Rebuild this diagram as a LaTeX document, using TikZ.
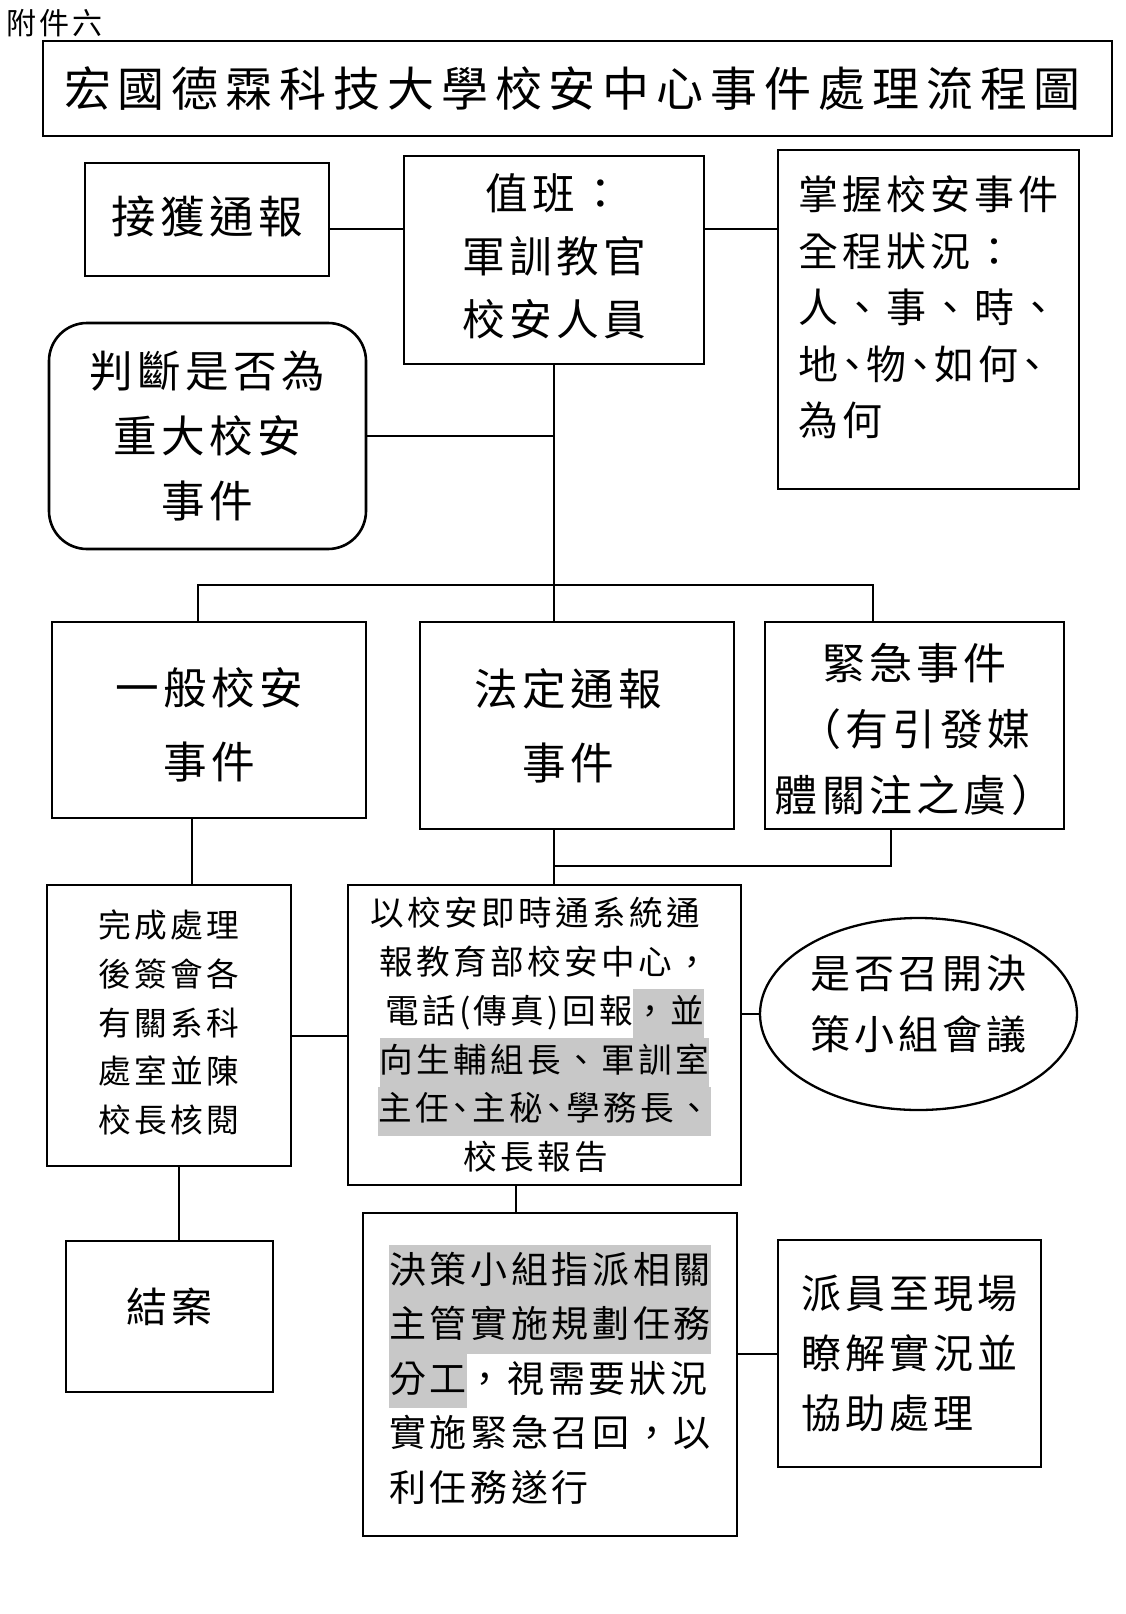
\documentclass[tikz,border=0pt]{standalone}
\usepackage{fontspec}
\usetikzlibrary{shapes.geometric}
\newfontfamily\cjk[LetterSpace=10]{Noto Sans CJK TC}
\newfontfamily\cjkt{Noto Sans CJK TC}
\newcommand\fs[2]{\cjk\fontsize{#1}{#2}\selectfont}
\definecolor{hlgray}{RGB}{200,200,200}
\newcommand\hlt[1]{{\setlength{\fboxsep}{0pt}\colorbox{hlgray}{\strut#1}}}
\newcommand\dun{\makebox[0.7em][c]{、}}
\newcommand\up[2]{\raisebox{#1}[\height][\depth]{#2}}
\tikzset{
  box/.style={draw, line width=2.6pt, inner sep=0pt, align=center},
  conn/.style={line width=2pt}
}
\begin{document}
\begin{tikzpicture}[x=1pt,y=-1pt]
\useasboundingbox (0,0) rectangle (1126,1614);
\fill[white] (0,0) rectangle (1126,1614);

\node[anchor=west, inner sep=0pt, font={\fs{30}{34}}] (att) at (6,23) {附件六};
\node[box, minimum width=1069pt, minimum height=95pt, font={\cjkt\fontsize{47}{56}\selectfont}] (title) at (577.5,88.5) {\hbox to 1017pt{宏\hfil 國\hfil 德\hfil 霖\hfil 科\hfil 技\hfil 大\hfil 學\hfil 校\hfil 安\hfil 中\hfil 心\hfil 事\hfil 件\hfil 處\hfil 理\hfil 流\hfil 程\hfil 圖}\hspace*{10pt}};

\node[box, minimum width=244pt, minimum height=113pt, font={\fs{44.5}{60}}] (jie) at (207,219.5) {\up{3pt}{接獲通報}};
\node[box, minimum width=300pt, minimum height=208pt, font={\fs{42.7}{63}}] (zhi) at (554,260) {\up{4pt}{值班：}\\\up{4pt}{軍訓教官}\\\up{4pt}{校安人員}};
\node[box, minimum width=301pt, minimum height=339pt, align=left, font={\fs{40}{56.5}}] (zhang) at (928.5,319.5) {\up{12pt}{掌握校安事件}\\\up{12pt}{全程狀況：}\\\up{12pt}{人、事、時、}\\\up{12pt}{地\dun 物\dun 如何\dun}\\\up{12pt}{為何}};
\node[box, rounded corners=38pt, minimum width=317pt, minimum height=226pt, font={\fs{43.6}{65}}] (pan) at (207.5,436) {判斷是否為\\重大校安\\事件};

\node[box, minimum width=314pt, minimum height=196pt, font={\fs{43.6}{74}}] (yiban) at (209,720) {\up{-5pt}{一般校安}\\\up{-5pt}{事件}};
\node[box, minimum width=314pt, minimum height=207pt, font={\fs{43.6}{74}}] (fading) at (577,725.5) {法定通報\hspace*{18pt}\\事件\hspace*{18pt}};
\node[box, minimum width=299pt, minimum height=207pt, font={\fs{43}{66}}] (jinji) at (914.5,725.5) {\up{-4pt}{緊急事件}\\\up{-4pt}{（有引發媒}\\\up{-4pt}{體關注之虞）}};

\node[box, minimum width=244pt, minimum height=281pt, font={\fs{32.7}{48.7}}] (wancheng) at (169,1025.5) {\up{3pt}{完成處理}\\\up{3pt}{後簽會各}\\\up{3pt}{有關系科}\\\up{3pt}{處室並陳}\\\up{3pt}{校長核閱}};
\node[box, minimum width=393pt, minimum height=300pt, font={\fs{33.6}{48.8}}] (report) at (544.5,1035) {以校安即時通系統通\hspace*{18pt}\\報教育部校安中心，\hspace*{18pt}\\電話(傳真)回報\hlt{，並}\hspace*{18pt}\\\hlt{向生輔組長、軍訓室}\hspace*{18pt}\\\hlt{主任\dun 主秘\dun 學務長、}\hspace*{18pt}\\校長報告\hspace*{18pt}};
\node[draw, ellipse, line width=2.3pt, inner sep=0pt, align=center, minimum width=317pt, minimum height=192pt, font={\fs{40}{61}}] (meet) at (918.5,1014) {\up{10pt}{是否召開決}\\\up{10pt}{策小組會議}};

\node[box, minimum width=207pt, minimum height=151pt, font={\fs{41}{50}}] (jiean) at (169.5,1316.5) {\up{10pt}{結案}};
\node[box, minimum width=374pt, minimum height=323pt, align=left, font={\fs{37}{54.5}}] (juece) at (550,1374.5) {\hlt{決策小組指派相關}\\\hlt{主管實施規劃任務}\\\hlt{分工}，視需要狀況\\實施緊急召回，以\\利任務遂行};
\node[box, minimum width=263pt, minimum height=227pt, align=left, font={\fs{40}{60}}] (paiyuan) at (909.5,1353.5) {派員至現場\\瞭解實況並\\協助處理};

\coordinate (r1) at (0,229);
\coordinate (bl) at (197.5,585);
\coordinate (br) at (872.5,585);
\coordinate (j1) at (554,866);
\coordinate (jr) at (890.5,866);
\coordinate (c1) at (192,0);
\coordinate (r2) at (0,1036);
\coordinate (c2) at (179,0);
\coordinate (c3) at (515.6,0);
\coordinate (r4) at (0,1354);

\draw[conn] (jie.east |- r1) -- (zhi.west |- r1);
\draw[conn] (zhi.east |- r1) -- (zhang.west |- r1);
\draw[conn] (zhi.south) -- (zhi.south |- fading.north);
\draw[conn] (pan.east) -- (pan.east -| zhi.south);
\draw[conn] (yiban.north -| bl) -- (bl) -- (br) -- (jinji.north -| br);
\draw[conn] (fading.south -| j1) -- (report.north -| j1);
\draw[conn] (j1) -- (jr) -- (jinji.south -| jr);
\draw[conn] (yiban.south -| c1) -- (wancheng.north -| c1);
\draw[conn] (wancheng.east |- r2) -- (report.west |- r2);
\draw[conn] (meet.west) -- (meet.west -| report.east);
\draw[conn] (wancheng.south -| c2) -- (jiean.north -| c2);
\draw[conn] (report.south -| c3) -- (juece.north -| c3);
\draw[conn] (juece.east |- r4) -- (paiyuan.west |- r4);
\end{tikzpicture}
\end{document}
